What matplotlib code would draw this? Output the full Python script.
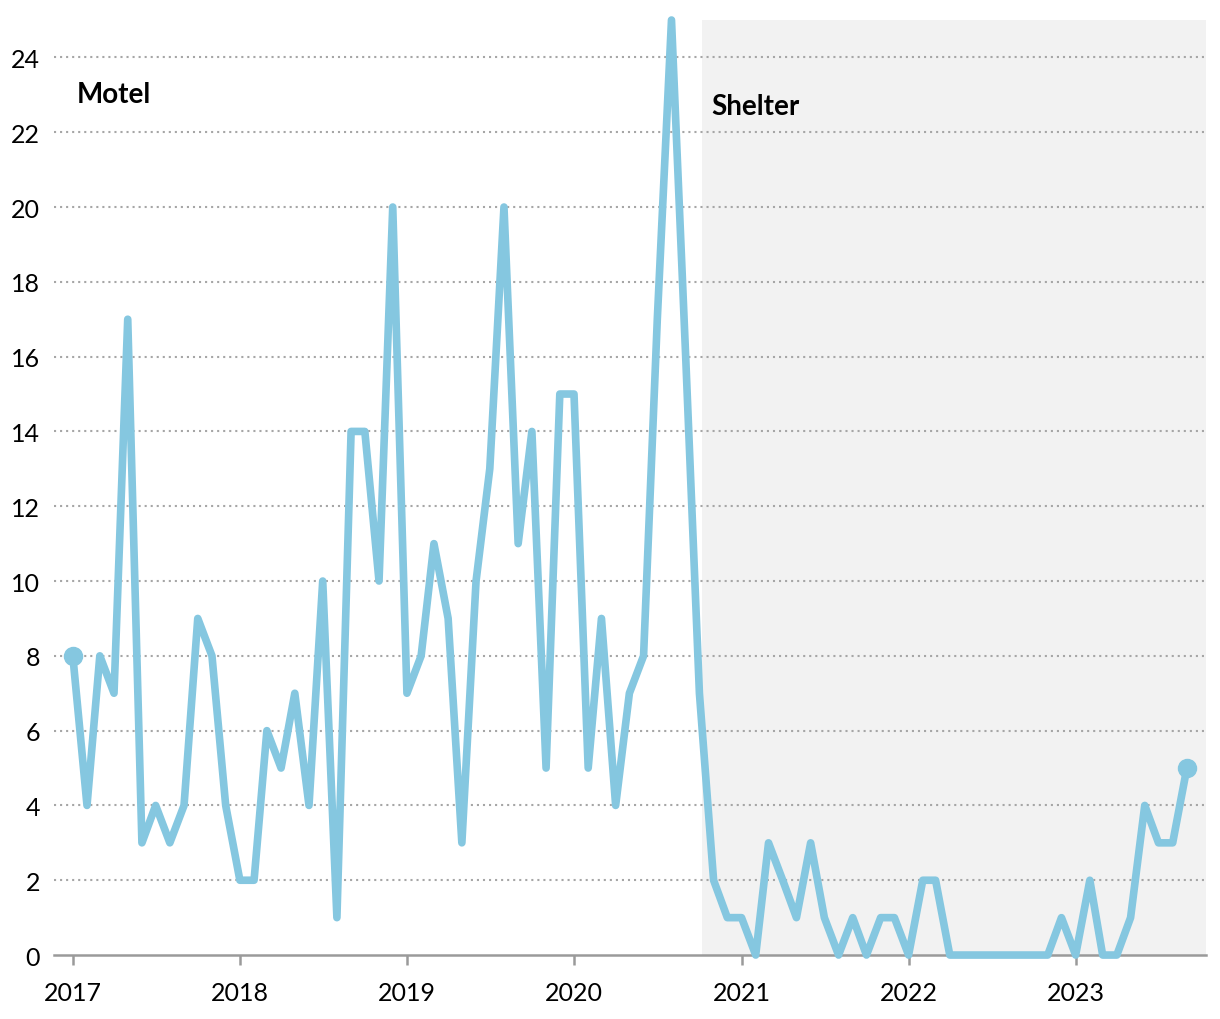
import pandas as pd
import matplotlib
matplotlib.use("Agg")
import matplotlib.pyplot as plt
import matplotlib.dates as mdates

plt.rcParams["font.family"] = ["Lato", "DejaVu Sans"]

# monthly counts, Jan 2017 .. Sep 2023
months = pd.date_range("2017-01-01", periods=81, freq="MS")
counts = [
    8, 4, 8, 7, 17, 3, 4, 3, 4, 9, 8, 4,          # 2017
    2, 2, 6, 5, 7, 4, 10, 1, 14, 14, 10, 20,      # 2018
    7, 8, 11, 9, 3, 10, 13, 20, 11, 14, 5, 15,    # 2019
    15, 5, 9, 4, 7, 8, 17, 25, 16, 7, 2, 1,       # 2020
    1, 0, 3, 2, 1, 3, 1, 0, 1, 0, 1, 1,           # 2021
    0, 2, 2, 0, 0, 0, 0, 0, 0, 0, 0, 1,           # 2022
    0, 2, 0, 0, 1, 4, 3, 3, 5,                    # 2023
]
shelter_start = pd.Timestamp("2020-10-07")
period_labels = ["Motel", "Shelter"]
year_ticks = pd.date_range("2017-01-01", "2023-01-01", freq="YS")
y_ticks = list(range(0, 26, 2))

LINE = "#85c7e0"
GRID = "#a6a6a6"
AXIS = "#9a9a9a"

fig = plt.figure(figsize=(12.2, 10.2), dpi=100)
ax = fig.add_axes([0.0443, 0.0627, 0.9443, 0.9167])

x_left = pd.Timestamp("2016-11-21")
x_right = pd.Timestamp("2023-10-13")
ax.set_xlim(x_left, x_right)
ax.set_ylim(0, 25)

# shelter period shading
ax.axvspan(shelter_start, x_right, color="#f2f2f2", lw=0, zorder=0)

# dotted horizontal gridlines
for v in y_ticks[1:]:
    ax.axhline(v, color=GRID, lw=1.5, linestyle=(0, (1, 1.9)), zorder=1)

ax.plot(months, counts, color=LINE, lw=5.5, solid_joinstyle="round",
        solid_capstyle="round", zorder=3, clip_on=False)
ax.plot([months[0], months[-1]], [counts[0], counts[-1]], "o", color=LINE,
        ms=13, zorder=4, clip_on=False)

ax.text(months[0] + pd.Timedelta(days=9), 22.8, period_labels[0],
        fontsize=20, fontweight="bold", color="black", va="baseline")
ax.text(pd.Timestamp("2020-10-28"), 22.5, period_labels[1],
        fontsize=20, fontweight="bold", color="black", va="baseline")

for s in ["top", "right", "left"]:
    ax.spines[s].set_visible(False)
ax.spines["bottom"].set_color(AXIS)
ax.spines["bottom"].set_linewidth(1.8)
ax.spines["bottom"].set_zorder(2)

ax.set_xticks(year_ticks)
ax.xaxis.set_major_formatter(mdates.DateFormatter("%Y"))
ax.tick_params(axis="x", length=7, width=1.8, color=AXIS, pad=12,
               labelsize=18, labelcolor="black")
ax.set_yticks(y_ticks)
ax.tick_params(axis="y", length=0, pad=10, labelsize=18, labelcolor="black")

fig.savefig("out.png", dpi=100)
